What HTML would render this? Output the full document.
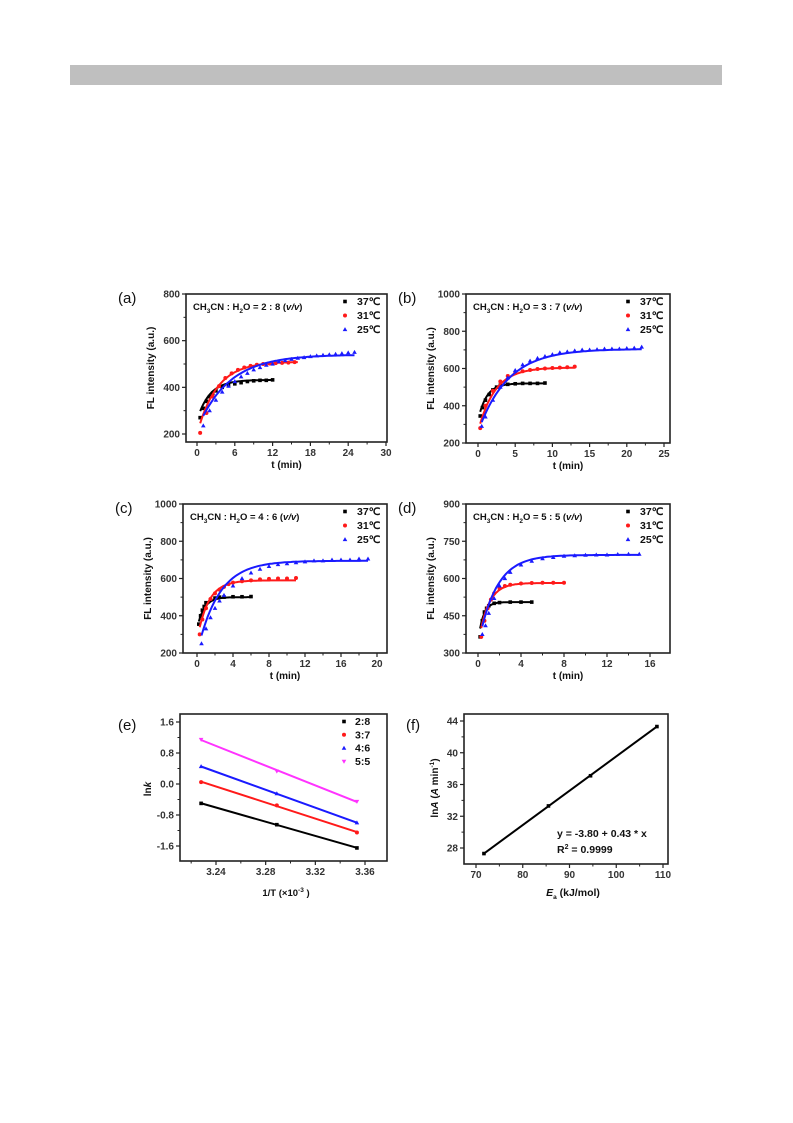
<!DOCTYPE html>
<html><head><meta charset="utf-8"><style>
html,body{margin:0;padding:0;background:#fff;}
svg{display:block;font-family:"Liberation Sans",Arial,sans-serif;}
</style></head><body>
<svg id="fig" width="793" height="1123" viewBox="0 0 793 1123" xmlns="http://www.w3.org/2000/svg">
<rect x="70" y="65" width="652" height="20" fill="#bfbfbf"/>
</svg>
<script>
// ---------- panel (a) data ----------
const a_t37=[0.5,1,1.5,2,2.5,3,4,5,6,7,8,9,10,11,12];
const a_y37=[270,310,340,360,375,385,400,410,415,420,425,428,430,430,432];
const a_t31=[0.5,1.5,2.5,3.5,4.5,5.5,6.5,7.5,8.5,9.5,10.5,11.5,12.5,13.5,14.5,15.5];
const a_y31=[205,290,360,405,440,460,475,485,492,497,500,502,504,505,506,508];
const a_t25=[1,2,3,4,5,6,7,8,9,10,11,12,13,14,15,16,17,18,19,20,21,22,23,24,25];
const a_y25=[235,300,345,380,405,425,445,460,475,485,495,500,510,515,520,525,528,532,535,538,540,542,545,548,550];
const a_fit=[[432,260,0.5,0.5,12],[510,200,0.32,0.5,16],[540,220,0.2,1,25]];
// ---------- panel (b) data ----------
const b_t37=[0.3,0.6,1,1.5,2,2.5,3,4,5,6,7,8,9];
const b_y37=[345,390,430,460,485,500,510,515,518,520,520,520,522];
const b_t31=[0.3,1,2,3,4,5,6,7,8,9,10,11,12,13];
const b_y31=[280,400,480,530,560,575,585,592,597,600,603,605,607,610];
const b_t25=[0.5,1,2,3,4,5,6,7,8,9,10,11,12,13,14,15,16,17,18,19,20,21,22];
const b_y25=[290,340,430,500,550,590,620,640,655,665,675,685,690,695,700,700,702,705,705,705,708,710,715];
const b_fit=[[520,320,0.9,0.3,9],[605,260,0.45,0.3,13],[705,260,0.25,0.5,22]];
// ---------- panel (c) data ----------
const c_t37=[0.2,0.4,0.6,0.8,1,1.5,2,2.5,3,4,5,6];
const c_y37=[355,400,430,450,470,485,495,500,500,502,502,503];
const c_t31=[0.3,0.6,1,1.5,2,2.5,3,3.5,4,5,6,7,8,9,10,11];
const c_y31=[300,380,440,490,520,540,555,570,578,585,590,595,598,600,600,603];
const c_t25=[0.5,1,1.5,2,2.5,3,4,5,6,7,8,9,10,11,12,13,14,15,16,17,18,19];
const c_y25=[250,330,390,440,480,510,560,600,630,650,665,675,680,685,690,695,695,700,700,700,705,705];
const c_fit=[[500,330,1.3,0.2,6],[590,270,0.8,0.3,11],[695,200,0.42,0.5,19]];
// ---------- panel (d) data ----------
const d_t37=[0.2,0.4,0.6,0.8,1,1.5,2,3,4,5];
const d_y37=[365,430,465,480,490,500,503,505,505,505];
const d_t31=[0.3,0.6,0.9,1.2,1.5,2,2.5,3,4,5,6,7,8];
const d_y31=[365,430,480,515,540,560,570,575,580,582,583,583,583];
const d_t25=[0.4,0.7,1,1.5,2,2.5,3,4,5,6,7,8,9,10,11,12,13,14,15];
const d_y25=[375,410,460,520,570,600,625,655,670,680,685,690,692,694,695,695,697,698,698];
const d_fit=[[505,340,2.2,0.2,5],[582,330,1.1,0.3,8],[695,330,0.6,0.4,15]];
// ---------- panel (e) data ----------
const e_x=[3.228,3.289,3.3535];
const e_28=[-0.5,-1.05,-1.65];
const e_37=[0.05,-0.55,-1.25];
const e_46=[0.45,-0.25,-1.0];
const e_55=[1.15,0.33,-0.45];
const e_labels=["2:8","3:7","4:6","5:5"];
// ---------- panel (f) data ----------
const f_x=[71.7,85.5,94.5,108.7];
const f_y=[27.3,33.3,37.1,43.3];
const f_intercept=-3.80, f_slope=0.43;

const NS="http://www.w3.org/2000/svg";
const svg=document.getElementById('fig');
function mk(tag,attrs,parent){const e=document.createElementNS(NS,tag);for(const k in attrs)e.setAttribute(k,attrs[k]);(parent||svg).appendChild(e);return e;}
function txt(s,attrs,parent){const e=mk('text',attrs,parent);e.textContent=s;return e;}
const COLS=['#000000','#ff1a1a','#1a1aff','#ff33ff'];

function marker(g,kind,x,y,c){
  let e;
  if(kind==0){e=mk('rect',{x:x-1.8,y:y-1.8,width:3.6,height:3.6,fill:c},g);}
  else if(kind==1){e=mk('circle',{cx:x,cy:y,r:2,fill:c},g);}
  else if(kind==2){e=mk('polygon',{points:`${x},${y-2.4} ${x-2.3},${y+1.6} ${x+2.3},${y+1.6}`,fill:c},g);}
  else {e=mk('polygon',{points:`${x},${y+2.4} ${x-2.3},${y-1.6} ${x+2.3},${y-1.6}`,fill:c},g);}
  
  
  return e;
}

function axes(p){
  // p: L,R,T,B, xmin,xmax (value at L,R), ymin,ymax (value at B,T), xticks, yticks, xminor,yminor
  const g=mk('g',{});
  
  
  const sx=v=>p.L+(v-p.xmin)/(p.xmax-p.xmin)*(p.R-p.L);
  const sy=v=>p.B-(v-p.ymin)/(p.ymax-p.ymin)*(p.B-p.T);
  const fr=mk('rect',{x:p.L,y:p.T,width:p.R-p.L,height:p.B-p.T,fill:'none',stroke:'#222','stroke-width':1.6},g);
  
  p.xticks.forEach((v,i)=>{const x=sx(v);mk('line',{x1:x,y1:p.B,x2:x,y2:p.B+4,stroke:'#222','stroke-width':1.2},g);
    const t=txt(p.xlab[i],{x:x,y:p.B+14,'text-anchor':'middle','font-size':10,'font-weight':'bold',fill:'#333'},g);
    });
  p.xminor.forEach(v=>{const x=sx(v);mk('line',{x1:x,y1:p.B,x2:x,y2:p.B+2.5,stroke:'#222','stroke-width':1},g);});
  p.yticks.forEach((v,i)=>{const y=sy(v);mk('line',{x1:p.L-4,y1:y,x2:p.L,y2:y,stroke:'#222','stroke-width':1.2},g);
    const t=txt(p.ylab[i],{x:p.L-6,y:y+3.5,'text-anchor':'end','font-size':10,'font-weight':'bold',fill:'#333'},g);
    });
  p.yminor.forEach(v=>{const y=sy(v);mk('line',{x1:p.L-2.5,y1:y,x2:p.L,y2:y,stroke:'#222','stroke-width':1},g);});
  return {g,sx,sy};
}

function kinetic(id,p,ts,ys,fits,ratio){
  const yt=[],yl=[];for(let v=p.ymin0;v<=p.ymax0+1e-9;v+=p.ystep){yt.push(v);yl.push(String(v));}
  const xt=[],xl=[];for(let v=0;v<=p.xmax0+1e-9;v+=p.xstep){xt.push(v);xl.push(String(v));}
  const xm=xt.map(v=>v+p.xstep/2).filter(v=>v<p.xmax);const ym=yt.map(v=>v+p.ystep/2).filter(v=>v<p.ymax);
  const A=axes({name:'panel-'+id,L:p.L,R:p.R,T:p.T,B:p.B,xmin:p.xmin,xmax:p.xmax,ymin:p.ymin,ymax:p.ymax,xticks:xt,xlab:xl,yticks:yt,ylab:yl,xminor:xm,yminor:ym});
  const g=A.g;
  for(let s=0;s<3;s++){
    const f=fits[s];let d='';
    for(let i=0;i<=80;i++){const t=f[3]+(f[4]-f[3])*i/80;const y=f[0]-(f[0]-f[1])*Math.exp(-f[2]*t);d+=(i?'L':'M')+A.sx(t).toFixed(1)+','+A.sy(y).toFixed(1);}
    const pa=mk('path',{d:d,fill:'none',stroke:COLS[s],'stroke-width':2},g);
    
    ts[s].forEach((t,i)=>marker(g,s,A.sx(t),A.sy(ys[s][i]),COLS[s]));
  }
  const lab=txt('('+id+')',{x:p.L-68,y:p.T+9,'font-size':15,fill:'#111'},g);
  
  const tt=mk('text',{x:p.L+7,y:p.T+16,'font-size':9.5,'font-weight':'bold',fill:'#111'},g);
  tt.innerHTML='CH<tspan font-size="6.5" dy="3">3</tspan><tspan dy="-3">CN : H</tspan><tspan font-size="6.5" dy="3">2</tspan><tspan dy="-3">O = '+ratio+' (</tspan><tspan font-style="italic">v/v</tspan>)';
  
  ['37℃','31℃','25℃'].forEach((s,i)=>{const y=p.T+11+i*14;marker(g,i,p.R-42,y-3.5,COLS[i]);
    const t=txt(s,{x:p.R-30,y:y,'font-size':10.5,'font-weight':'bold',fill:'#111'},g);
    });
  const yt2=txt('FL intensity (a.u.)',{x:0,y:0,'font-size':10,'font-weight':'bold',fill:'#111','text-anchor':'middle',transform:`translate(${p.L-32},${(p.T+p.B)/2}) rotate(-90)`},g);
  
  const xt2=txt('t (min)',{x:(p.L+p.R)/2,y:p.B+26,'font-size':10,'font-weight':'bold',fill:'#111','text-anchor':'middle'},g);
  
}
function lin(p){ // p: {L,R,B,T, x0px,x0,x1px,x1, y0px,y0,y1px,y1} -> domain values at frame
  const xmin=p.x0+(p.L-p.x0px)/(p.x1px-p.x0px)*(p.x1-p.x0), xmax=p.x0+(p.R-p.x0px)/(p.x1px-p.x0px)*(p.x1-p.x0);
  const ymin=p.y0+(p.B-p.y0px)/(p.y1px-p.y0px)*(p.y1-p.y0), ymax=p.y0+(p.T-p.y0px)/(p.y1px-p.y0px)*(p.y1-p.y0);
  return {xmin,xmax,ymin,ymax};
}
function kp(L,R,T,B,x0px,x1px,xmax0,xstep,yTopPx,yTopV,yBotPx,yBotV,ystep){
  const d=lin({L,R,T,B,x0px,x0:0,x1px,x1:xmax0,y0px:yBotPx,y0:yBotV,y1px:yTopPx,y1:yTopV});
  return Object.assign({L,R,T,B,xmax0,xstep,ymin0:yBotV,ymax0:yTopV,ystep},d);
}
kinetic('a',kp(186,387,294,442,197,386,30,6,294,800,434,200,200),[a_t37,a_t31,a_t25],[a_y37,a_y31,a_y25],a_fit,'2 : 8');
kinetic('b',kp(466,670,294,443,478,664,25,5,294,1000,443,200,200),[b_t37,b_t31,b_t25],[b_y37,b_y31,b_y25],b_fit,'3 : 7');
kinetic('c',kp(183,387,504,653,197,377,20,4,504,1000,653,200,200),[c_t37,c_t31,c_t25],[c_y37,c_y31,c_y25],c_fit,'4 : 6');
kinetic('d',kp(466,670,504,653,478,650,16,4,504,900,653,300,150),[d_t37,d_t31,d_t25],[d_y37,d_y31,d_y25],d_fit,'5 : 5');

// panel e
(function(){
  const L=180,R=387,T=714,B=861;
  const d=lin({L,R,T,B,x0px:216,x0:3.24,x1px:365,x1:3.36,y0px:846,y0:-1.6,y1px:722,y1:1.6});
  const xt=[3.24,3.28,3.32,3.36],yt=[-1.6,-0.8,0.0,0.8,1.6];
  const A=axes({name:'panel-e',L,R,T,B,xmin:d.xmin,xmax:d.xmax,ymin:d.ymin,ymax:d.ymax,xticks:xt,xlab:xt.map(v=>v.toFixed(2)),yticks:yt,ylab:yt.map(v=>v.toFixed(1)),xminor:[3.22,3.26,3.30,3.34,3.38].filter(v=>v>d.xmin&&v<d.xmax),yminor:[-2.0,-1.2,-0.4,0.4,1.2].filter(v=>v>d.ymin&&v<d.ymax)});
  const g=A.g;
  [e_28,e_37,e_46,e_55].forEach((ys,s)=>{
    const n=e_x.length,mx=e_x.reduce((a,b)=>a+b)/n,my=ys.reduce((a,b)=>a+b)/n;
    let num=0,den=0;e_x.forEach((x,i)=>{num+=(x-mx)*(ys[i]-my);den+=(x-mx)**2;});
    const m=num/den,b=my-m*mx;
    const ln=mk('line',{x1:A.sx(e_x[0]),y1:A.sy(m*e_x[0]+b),x2:A.sx(e_x[n-1]),y2:A.sy(m*e_x[n-1]+b),stroke:COLS[s],'stroke-width':2},g);
    
    e_x.forEach((x,i)=>marker(g,s,A.sx(x),A.sy(ys[i]),COLS[s]));
    const y=725+s*13.3;marker(g,s,344,y-3.5,COLS[s]);
    const t=txt(e_labels[s],{x:355,y:y,'font-size':10.5,'font-weight':'bold',fill:'#111'},g);
    
  });
  const lab=txt('(e)',{x:118,y:730,'font-size':15,fill:'#111'},g);
  const yt2=mk('text',{'font-size':10,'font-weight':'bold',fill:'#111','text-anchor':'middle',transform:'translate(151,789) rotate(-90)'},g);
  yt2.innerHTML='ln<tspan font-style="italic">k</tspan>';
  const xt2=mk('text',{x:286,y:896,'font-size':9.5,'font-weight':'bold',fill:'#111','text-anchor':'middle'},g);
  xt2.innerHTML='1/T (×10<tspan font-size="6.5" dy="-4">-3</tspan><tspan dy="4"> )</tspan>';
})();
// panel f
(function(){
  const L=464,R=668,T=714,B=864;
  const d=lin({L,R,T,B,x0px:476,x0:70,x1px:663,x1:110,y0px:848,y0:28,y1px:721,y1:44});
  const xt=[70,80,90,100,110],yt=[28,32,36,40,44];
  const A=axes({name:'panel-f',L,R,T,B,xmin:d.xmin,xmax:d.xmax,ymin:d.ymin,ymax:d.ymax,xticks:xt,xlab:xt.map(String),yticks:yt,ylab:yt.map(String),xminor:[75,85,95,105],yminor:[30,34,38,42]});
  const g=A.g;
  const x0=f_x[0],x1=f_x[f_x.length-1];
  const ln=mk('line',{x1:A.sx(x0),y1:A.sy(f_y[0]),x2:A.sx(x1),y2:A.sy(f_y[f_y.length-1]),stroke:'#000','stroke-width':2},g);
  
  f_x.forEach((x,i)=>marker(g,0,A.sx(x),A.sy(f_y[i]),'#000'));
  const eq=txt('y = '+f_intercept.toFixed(2)+' + '+f_slope.toFixed(2)+' * x',{x:557,y:837,'font-size':10.5,'font-weight':'bold',fill:'#111'},g);
  
  const r2=mk('text',{x:557,y:853,'font-size':10.5,'font-weight':'bold',fill:'#111'},g);
  r2.innerHTML='R<tspan font-size="7" dy="-4">2</tspan><tspan dy="4"> = 0.9999</tspan>';
  const lab=txt('(f)',{x:406,y:730,'font-size':15,fill:'#111'},g);
  const yt2=mk('text',{'font-size':10,'font-weight':'bold',fill:'#111','text-anchor':'middle',transform:'translate(438,788) rotate(-90)'},g);
  yt2.innerHTML='ln<tspan font-style="italic">A</tspan> (<tspan font-style="italic">A</tspan> min<tspan font-size="6.5" dy="-4">-1</tspan><tspan dy="4">)</tspan>';
  const xt2=mk('text',{x:573,y:896,'font-size':10.5,'font-weight':'bold',fill:'#111','text-anchor':'middle'},g);
  xt2.innerHTML='<tspan font-style="italic">E</tspan><tspan font-size="6.5" dy="3">a</tspan><tspan dy="-3"> (kJ/mol)</tspan>';
})();
</script>
</body></html>
